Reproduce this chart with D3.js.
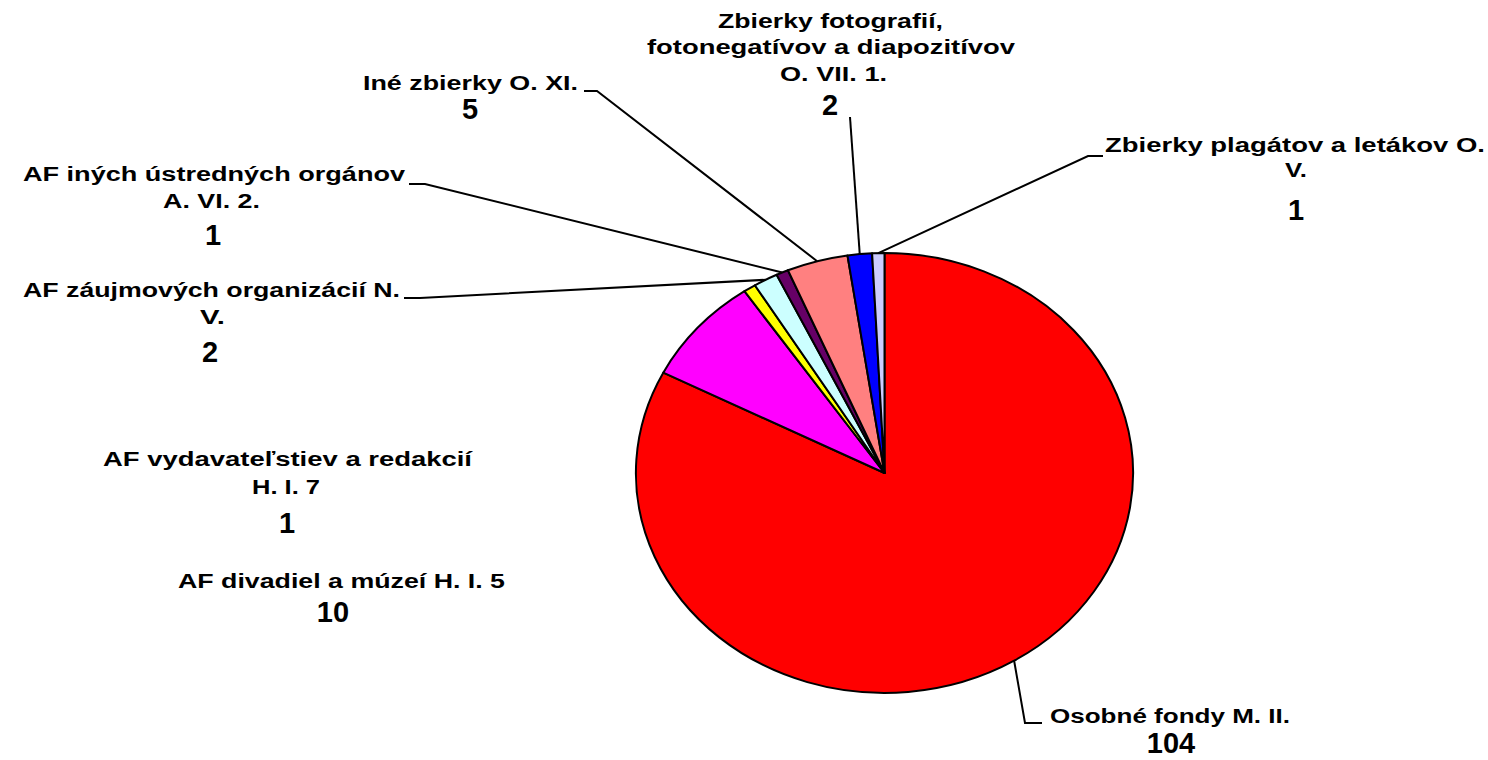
<!DOCTYPE html>
<html>
<head>
<meta charset="utf-8">
<script src="https://cdn.jsdelivr.net/npm/d3@7"></script>
<style>
  html, body { margin: 0; padding: 0; background: #fff; }
  svg { display: block; }
  text { font-family: "Liberation Sans", Arial, sans-serif; font-weight: bold; fill: #000; }
</style>
</head>
<body>
<svg id="chart" width="1488" height="760"></svg>
<script>
// ---- data ----
const categories = [
  "Osobné fondy M. II.",
  "AF divadiel a múzeí H. I. 5",
  "AF vydavateľstiev a redakcií H. I. 7",
  "AF záujmových organizácií N. V.",
  "AF iných ústredných orgánov A. VI. 2.",
  "Iné zbierky O. XI.",
  "Zbierky fotografií, fotonegatívov a diapozitívov O. VII. 1.",
  "Zbierky plagátov a letákov O. V."
];
const values = [104, 10, 1, 2, 1, 5, 2, 1];
const labelLines = [
  ["Osobné fondy M. II."],
  ["AF divadiel a múzeí H. I. 5"],
  ["AF vydavateľstiev a redakcií", "H. I. 7"],
  ["AF záujmových organizácií N.", "V."],
  ["AF iných ústredných orgánov", "A. VI. 2."],
  ["Iné zbierky O. XI."],
  ["Zbierky fotografií,", "fotonegatívov a diapozitívov", "O. VII. 1."],
  ["Zbierky plagátov a letákov O.", "V."]
];

// ---- styles / layout ----
const sliceColors = ["#FF0000", "#FF00FF", "#FFFF00", "#CCFFFF", "#660066", "#FF8080", "#0000FF", "#CCCCFF"];
const cx = 884.5, cy = 473, R = 220, sx = 1.13;
// each label: lines [x-start, width, baseline], number [center x, baseline], elbow points of leader (null = no leader)
const labelLayout = [
  { lines: [[1050, 240, 723]], num: [1171, 753], leader: [[1025, 723], [1042, 723]] },
  { lines: [[178, 327, 588]], num: [333, 622], leader: null },
  { lines: [[103, 369, 466], [252, 68, 494]], num: [287, 533], leader: null },
  { lines: [[23, 377, 297], [200, 25, 324]], num: [210, 362], leader: [[420, 298], [404, 298]] },
  { lines: [[23, 382, 181], [163, 97, 208]], num: [213, 245], leader: [[425, 184], [409, 184]] },
  { lines: [[363, 215, 90]], num: [470, 119], leader: [[597, 91], [584, 91]] },
  { lines: [[718, 225, 28], [647, 368, 54], [780, 107, 81]], num: [830, 115], leader: [[850, 117]] },
  { lines: [[1105, 380, 152], [1285, 22, 177]], num: [1296, 220], leader: [[1088, 156], [1103, 156]] }
];

const svg = d3.select("#chart");

const pie = d3.pie().sort(null).value(d => d);
const arcs = pie(values);
const arc = d3.arc().innerRadius(0).outerRadius(R);

const g = svg.append("g").attr("transform", `translate(${cx},${cy}) scale(${sx},1)`);
g.selectAll("path.slice")
  .data(arcs)
  .join("path")
  .attr("class", "slice")
  .attr("d", arc)
  .attr("fill", (d, i) => sliceColors[i])
  .attr("stroke", "#000")
  .attr("stroke-width", 2)
  .attr("stroke-linejoin", "round")
  .attr("vector-effect", "non-scaling-stroke");

// leaders
const line = d3.line();
arcs.forEach((d, i) => {
  const L = labelLayout[i];
  if (!L.leader) return;
  const a = (d.startAngle + d.endAngle) / 2;
  const p0 = [cx + sx * R * Math.sin(a), cy - R * Math.cos(a)];
  svg.append("path")
    .attr("d", line([p0, ...L.leader]))
    .attr("fill", "none")
    .attr("stroke", "#000")
    .attr("stroke-width", 2);
});

// labels
labelLines.forEach((lines, i) => {
  const L = labelLayout[i];
  lines.forEach((t, j) => {
    const [x, w, y] = L.lines[j];
    svg.append("text")
      .attr("x", x).attr("y", y)
      .attr("font-size", 20)
      .attr("textLength", w)
      .attr("lengthAdjust", "spacingAndGlyphs")
      .text(t);
  });
  svg.append("text")
    .attr("x", L.num[0]).attr("y", L.num[1])
    .attr("text-anchor", "middle")
    .attr("font-size", 29)
    .text(values[i]);
});
</script>
</body>
</html>
